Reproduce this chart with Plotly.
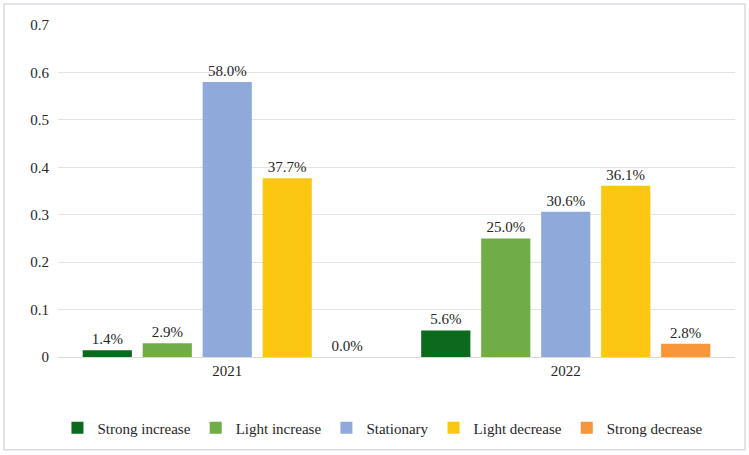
import plotly.graph_objects as go

years = ["2021", "2022"]
series_names = ["Strong increase", "Light increase", "Stationary", "Light decrease", "Strong decrease"]
strong_increase = [0.014, 0.056]
light_increase = [0.029, 0.250]
stationary = [0.580, 0.306]
light_decrease = [0.377, 0.361]
strong_decrease = [0.000, 0.028]
y_ticks = [0, 0.1, 0.2, 0.3, 0.4, 0.5, 0.6, 0.7]
y_tick_labels = ["0", "0.1", "0.2", "0.3", "0.4", "0.5", "0.6", "0.7"]

colors = ["#0B6A1C", "#70AD47", "#8FA9DB", "#FBC712", "#F7963A"]
values = [strong_increase, light_increase, stationary, light_decrease, strong_decrease]

FONT = "'Liberation Serif', 'DejaVu Serif', serif"
W, H = 749, 455
ml, mr, mt, mb = 58, 14, 25, 97
pw, ph = W - ml - mr, H - mt - mb

fig = go.Figure()
for name, vals, col in zip(series_names, values, colors):
    fig.add_trace(go.Bar(
        x=years, y=vals, name=name, marker=dict(color=col, line=dict(width=0)),
        text=[f"{v*100:.1f}%" for v in vals], textposition="outside",
        textfont=dict(family=FONT, size=15, color="#262626"),
        cliponaxis=False,
    ))

# light frame around the whole chart
fig.add_shape(type="rect", xref="paper", yref="paper",
              x0=(4 - ml) / pw, x1=(745 - ml) / pw,
              y0=(mt + ph - 451) / ph, y1=(mt + ph - 4) / ph,
              line=dict(color="#D9DAE3", width=1.5), fillcolor="rgba(0,0,0,0)", layer="below")

fig.update_layout(
    width=W, height=H,
    margin=dict(l=ml, r=mr, t=mt, b=mb),
    paper_bgcolor="white", plot_bgcolor="white",
    barmode="group", bargap=0.114, bargroupgap=0.18,
    font=dict(family=FONT, size=15, color="#404040"),
    showlegend=True,
    legend=dict(orientation="h", x=0.48, xanchor="center", y=-0.21, yanchor="middle",
                font=dict(family=FONT, size=15, color="#262626"),
                itemwidth=30, tracegroupgap=0),
    xaxis=dict(showgrid=False, showline=True, linecolor="#D9D9D9", linewidth=1,
               ticks="", tickfont=dict(family=FONT, size=15, color="#262626")),
    yaxis=dict(range=[0, 0.7], tickvals=y_ticks, ticktext=y_tick_labels,
               showgrid=True, gridcolor="#E3E3E3", gridwidth=1, zeroline=False,
               showline=False, ticks="", ticklabelstandoff=8,
               tickfont=dict(family=FONT, size=15, color="#262626")),
)

fig.write_html("out.html")
